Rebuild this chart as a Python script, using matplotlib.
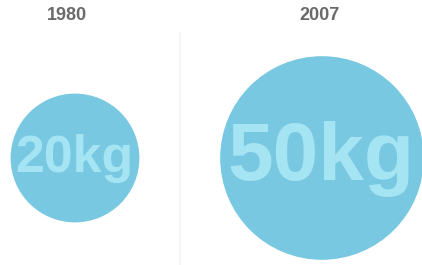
import matplotlib
matplotlib.use("Agg")
import matplotlib.pyplot as plt
from matplotlib.patches import Circle
import numpy as np

years = ["1980", "2007"]
values = [20, 50]
labels = ["20kg", "50kg"]

W, H = 422, 265
fig = plt.figure(figsize=(W / 100, H / 100), dpi=100)
ax = fig.add_axes([0, 0, 1, 1])
ax.set_xlim(0, W)
ax.set_ylim(H, 0)
ax.set_aspect("equal")
ax.axis("off")

k = 14.4
centers_x = [75, 322]
cy = 158
title_x = [67, 320]
circle_color = "#79c8e1"
text_color = "#a5e4f2"

for i, (yr, v, lab) in enumerate(zip(years, values, labels)):
    r = k * np.sqrt(v)
    ax.add_patch(Circle((centers_x[i], cy), r, facecolor=circle_color, edgecolor="none"))
    fs = 0.58 * r  # points
    ax.text(centers_x[i] - 1, cy + 0.22 * r, lab, ha="center", va="baseline",
            fontsize=fs, fontweight="bold", family="Liberation Sans", color=text_color)
    ax.text(title_x[i], 16, yr, ha="center", va="center", fontsize=13,
            fontweight="bold", family="Liberation Sans", color="#6a6a6a")

ax.plot([180, 180], [33, 265], color="#f3f3f3", lw=1.2)

fig.savefig("out.png", dpi=100)
